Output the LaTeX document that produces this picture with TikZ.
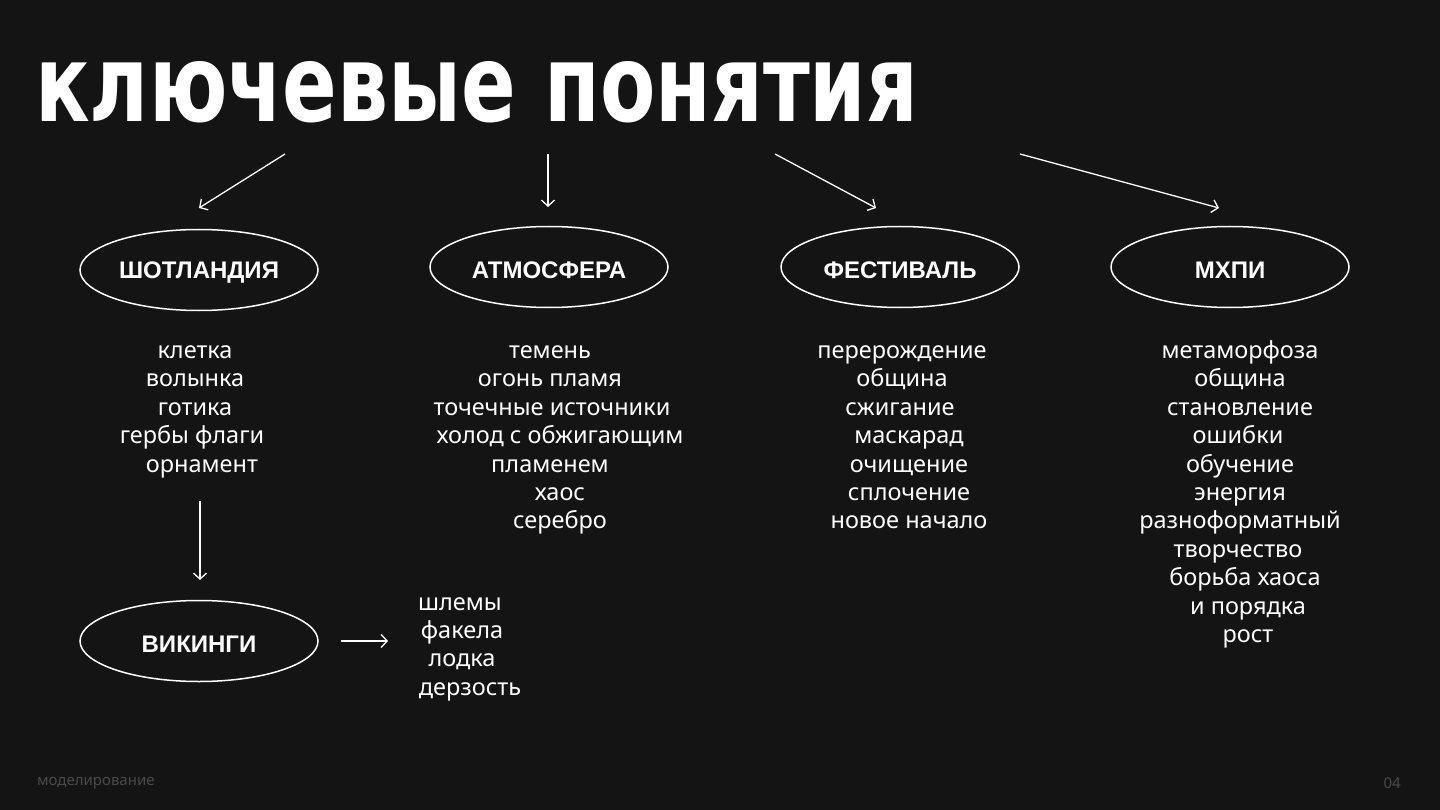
\documentclass[tikz,border=0pt]{standalone}
\usepackage{fontspec}
\setmainfont{Noto Sans}
\newfontfamily\titlefont{DejaVu Sans}
\newfontfamily\lblfont{Liberation Sans}
\usetikzlibrary{shapes.geometric,arrows.meta}
\definecolor{bg}{HTML}{151414}
\definecolor{foot}{HTML}{4A4A4A}
\tikzset{
  oval/.style={draw=white, line width=1.5pt, ellipse, minimum width=238pt, minimum height=81pt, inner sep=0pt},
  lbl/.style={text=white, font=\lblfont\fontsize{24}{28}\selectfont\bfseries, yshift=-3pt},
  item/.style={text=white, font=\fontsize{23.5}{28}\selectfont, inner sep=0pt, anchor=base},
  arr/.style={draw=white, line width=1.3pt, -{Straight Barb[length=6pt,width=13pt,line width=1.3pt]}},
  footer/.style={text=foot, font=\fontsize{15}{18}\selectfont, inner sep=0pt}
}
\begin{document}
\begin{tikzpicture}[x=1pt,y=-1pt]
\fill[bg] (0,0) rectangle (1440,810);
\useasboundingbox (0,0) rectangle (1440,810);
% title
\node[anchor=base west, inner sep=0pt, text=white] (title) at (35,122) {\resizebox{883pt}{60pt}{\titlefont\bfseries ключевые понятия}};
% ellipses
\node[oval] (sc) at (199,270) {};
\node[lbl] at (sc) {ШОТЛАНДИЯ};
\node[oval] (at) at (549,267) {};
\node[lbl] at (at) {АТМОСФЕРА};
\node[oval] (fe) at (900,267) {};
\node[lbl] at (fe) {ФЕСТИВАЛЬ};
\node[oval] (mh) at (1230,267) {};
\node[lbl] at (mh) {МХПИ};
\node[oval] (vi) at (199,641) {};
\node[lbl] at (vi) {ВИКИНГИ};
% arrow coordinates
\coordinate (a1s) at (285,154); \coordinate (a1e) at (199,208);
\coordinate (a2s) at (548,154); \coordinate (a2e) at (548,207);
\coordinate (a3s) at (775,154); \coordinate (a3e) at (876,208);
\coordinate (a4s) at (1020,154); \coordinate (a4e) at (1219,208);
\coordinate (a5s) at (200,501); \coordinate (a5e) at (200,580);
\coordinate (a6s) at (341,641); \coordinate (a6e) at (388,641);
\draw[arr] (a1s) -- (a1e);
\draw[arr] (a2s) -- (a2e);
\draw[arr] (a3s) -- (a3e);
\draw[arr] (a4s) -- (a4e);
\draw[arr] (a5s) -- (a5e);
\draw[arr] (a6s) -- (a6e);
% column 1
\node[item] (c1a) at (195,358) {клетка};
\node[item] (c1b) at (195,386) {волынка};
\node[item] (c1c) at (195,415) {готика};
\node[item] (c1d) at (192,443) {гербы флаги};
\node[item] (c1e) at (202,472) {орнамент};
% column 2
\node[item] (c2a) at (550,358) {темень};
\node[item] (c2b) at (550,386) {огонь пламя};
\node[item] (c2c) at (552,415) {точечные источники};
\node[item] (c2d) at (560,443) {холод с обжигающим};
\node[item] (c2e) at (550,472) {пламенем};
\node[item] (c2f) at (560,500) {хаос};
\node[item] (c2g) at (560,528) {серебро};
% column 3
\node[item] (c3a) at (902,358) {перерождение};
\node[item] (c3b) at (902,386) {община};
\node[item] (c3c) at (900,415) {сжигание};
\node[item] (c3d) at (909,443) {маскарад};
\node[item] (c3e) at (909,472) {очищение};
\node[item] (c3f) at (909,500) {сплочение};
\node[item] (c3g) at (909,528) {новое начало};
% column 4
\node[item] (c4a) at (1240,358) {метаморфоза};
\node[item] (c4b) at (1240,386) {община};
\node[item] (c4c) at (1240,415) {становление};
\node[item] (c4d) at (1238,443) {ошибки};
\node[item] (c4e) at (1240,472) {обучение};
\node[item] (c4f) at (1240,500) {энергия};
\node[item] (c4g) at (1240,528) {разноформатный};
\node[item] (c4h) at (1238,557) {творчество};
\node[item] (c4i) at (1245,585) {борьба хаоса};
\node[item] (c4j) at (1248,614) {и порядка};
\node[item] (c4k) at (1248,642) {рост};
% vikings list
\node[item] (v1) at (460,610) {шлемы};
\node[item] (v2) at (462,638) {факела};
\node[item] (v3) at (462,666) {лодка};
\node[item] (v4) at (470,695) {дерзость};
% footer
\node[footer, anchor=west] (ft) at (37,783) {моделирование};
\node[footer, anchor=east] (pg) at (1401,783) {04};
\end{tikzpicture}
\end{document}
